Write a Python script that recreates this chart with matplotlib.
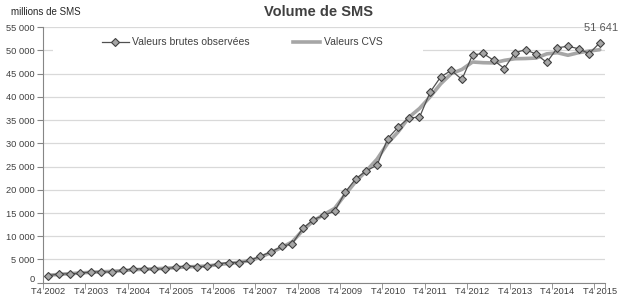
import matplotlib
matplotlib.use("Agg")
import matplotlib.pyplot as plt
import matplotlib.transforms as mtransforms
from matplotlib.patches import Rectangle
from matplotlib.lines import Line2D

plt.rcParams['font.family'] = ['Liberation Sans', 'DejaVu Sans']

# quarterly data, T4 2002 .. T4 2015 (millions of SMS)
years = list(range(2002, 2016))
tick_labels = [f"T4 {y}" for y in years]

raw = [1500, 1900, 1900, 2050, 2300, 2350, 2300, 2650, 2950, 3000,
       2900, 3000, 3300, 3600, 3450, 3550, 4050, 4350, 4300, 4800,
       5700, 6650, 7800, 8400, 11700, 13600, 14500, 15400, 19500, 22400,
       24100, 25300, 31000, 33500, 35500, 35600, 41000, 44300, 45700, 43750,
       49000, 49350, 47850, 46100, 49500, 50150, 49200, 47400, 50550, 50900,
       50350, 49300, 51641]

cvs = [1600, 1800, 1950, 2100, 2250, 2350, 2450, 2600, 2800, 2900,
       3000, 3100, 3250, 3400, 3500, 3600, 3900, 4150, 4400, 4750,
       5500, 6500, 7600, 8800, 11300, 13300, 14700, 16000, 19000, 21800,
       24100, 26600, 30000, 32500, 35600, 37500, 40000, 42800, 45000, 45900,
       47500, 47350, 47300, 47850, 48200, 48250, 48350, 49250, 49500, 48950,
       49500, 49850, 50150]

x = list(range(len(raw)))
dark = '#404040'

fig = plt.figure(figsize=(6.28, 3.05), dpi=100)
ax = fig.add_axes([0.0685, 0.073, 0.895, 0.838])

ax.plot(x, cvs, color='#a6a6a6', lw=2.6, zorder=2, solid_capstyle='round')
ax.plot(x, raw, color='#505050', lw=0.9, marker='D', markersize=4.3,
        markerfacecolor='#a6a6a6', markeredgecolor='#404040',
        markeredgewidth=0.8, zorder=3)

ax.set_xlim(-0.5, len(raw) - 0.5)
ax.set_ylim(0, 55000)

yt = list(range(0, 55001, 5000))
ax.set_yticks(yt)
ax.set_yticklabels([f"{v:,}".replace(",", " ") for v in yt])
ax.yaxis.grid(True, color='#d9d9d9', lw=0.9)
ax.set_axisbelow(True)

ax.set_xticks(list(range(0, len(raw), 4)))
ax.set_xticklabels(tick_labels)
ax.set_xticks([i - 0.5 for i in range(0, len(raw), 4)] + [len(raw) - 0.5], minor=True)
ax.tick_params(axis='x', which='major', length=0, pad=3, labelsize=6.7, labelcolor=dark)
ax.tick_params(axis='x', which='minor', length=4, color='#868686', direction='out')
ax.tick_params(axis='y', length=4, color='#868686', labelsize=6.7, labelcolor=dark, pad=2)

# lift the "0" label a little so it sits above the first category label
zero_lbl = ax.get_yticklabels()[0]
zero_lbl.set_transform(zero_lbl.get_transform() +
                       mtransforms.ScaledTranslation(0, 3 / 72, fig.dpi_scale_trans))

for s in ['top', 'right']:
    ax.spines[s].set_visible(False)
for s in ['left', 'bottom']:
    ax.spines[s].set_color('#868686')

# white legend background hides the gridline behind it
ax.add_patch(Rectangle((0.018, 0.871), 0.658, 0.098, transform=ax.transAxes,
                       facecolor='white', edgecolor='none', zorder=1))

handles = [Line2D([], [], color='#505050', lw=0.9, marker='D', markersize=4.3,
                  markerfacecolor='#a6a6a6', markeredgecolor='#404040', markeredgewidth=0.8),
           Line2D([], [], color='#a6a6a6', lw=2.6)]
ax.legend(handles, ['Valeurs brutes observées', 'Valeurs CVS'], ncol=2,
          loc='center', bbox_to_anchor=(0.354, 0.941), frameon=False,
          fontsize=7.5, handlelength=2.6, handletextpad=0.3, columnspacing=4.2,
          labelcolor=dark)

ax.annotate(f"{raw[-1]:,}".replace(",", " "), (x[-1], raw[-1]),
            xytext=(1, 7), textcoords='offset points', ha='center', va='bottom',
            fontsize=8, color='#595959')

fig.text(0.507, 0.96, 'Volume de SMS', ha='center', va='center',
         fontsize=10.5, fontweight='bold', color=dark)
fig.text(0.018, 0.96, 'millions de SMS', ha='left', va='center',
         fontsize=7, color='#262626')

fig.savefig('out.png', dpi=100)
